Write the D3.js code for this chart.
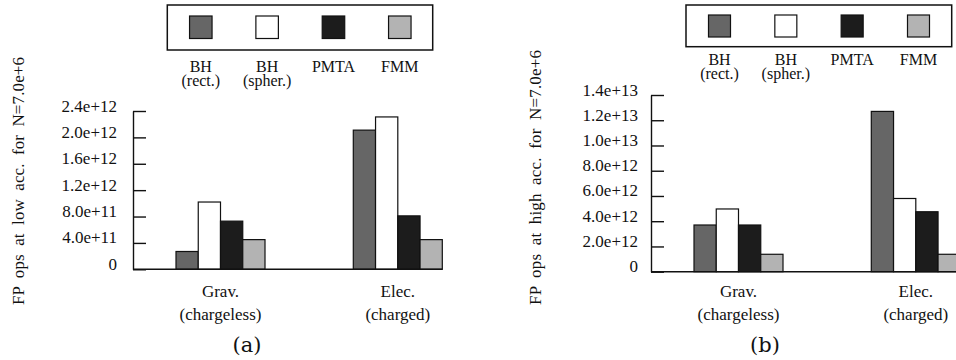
<!DOCTYPE html>
<html>
<head>
<meta charset="utf-8">
<script src="https://cdn.jsdelivr.net/npm/d3@7"></script>
<style>
  html, body { margin: 0; padding: 0; background: #fff; }
  svg { display: block; }
  text { font-family: "Liberation Serif", "Times New Roman", serif; fill: #111; }
</style>
</head>
<body>
<svg id="chart" width="956" height="360"></svg>
<script>
// ---- data ----
const categories = ["Grav.", "Elec."];
const categorySub = ["(chargeless)", "(charged)"];
const methods = ["BH (rect.)", "BH (spher.)", "PMTA", "FMM"];
const legendLine1 = ["BH", "BH", "PMTA", "FMM"];
const legendLine2 = ["(rect.)", "(spher.)", "", ""];

const lowAccBHRect  = [2.7e11, 2.11e12];
const lowAccBHSpher = [1.02e12, 2.31e12];
const lowAccPMTA    = [7.3e11, 8.1e11];
const lowAccFMM     = [4.5e11, 4.5e11];

const highAccBHRect  = [3.7e12, 1.27e13];
const highAccBHSpher = [4.97e12, 5.8e12];
const highAccPMTA    = [3.7e12, 4.75e12];
const highAccFMM     = [1.38e12, 1.38e12];

const lowAccTicks = [0, 4e11, 8e11, 1.2e12, 1.6e12, 2.0e12, 2.4e12];
const lowAccTickLabels = ["0", "4.0e+11", "8.0e+11", "1.2e+12", "1.6e+12", "2.0e+12", "2.4e+12"];
const highAccTicks = [0, 2e12, 4e12, 6e12, 8e12, 1.0e13, 1.2e13, 1.4e13];
const highAccTickLabels = ["0", "2.0e+12", "4.0e+12", "6.0e+12", "8.0e+12", "1.0e+13", "1.2e+13", "1.4e+13"];

const yTitleLow = "FP ops at low acc. for N=7.0e+6";
const yTitleHigh = "FP ops at high acc. for N=7.0e+6";
const panelTags = ["(a)", "(b)"];

// ---- styles ----
const methodColors = ["#666666", "#ffffff", "#1c1c1c", "#b3b3b3"];

const svg = d3.select("#chart");

const panels = [
  { series: [lowAccBHRect, lowAccBHSpher, lowAccPMTA, lowAccFMM], ticks: lowAccTicks, tickLabels: lowAccTickLabels,
    title: yTitleLow, tag: panelTags[0],
    axisX: 133, y0: 269.3, yTop: 111, xEnd: 442.3, labelPad: 16, titleX: 24, titleLen: 248,
    box: { x: 167.3, y: 5, w: 265.4, h: 45 }, sqY: 16, sq: 22.5, l1: 72, l2: 86 },
  { series: [highAccBHRect, highAccBHSpher, highAccPMTA, highAccFMM], ticks: highAccTicks, tickLabels: highAccTickLabels,
    title: yTitleHigh, tag: panelTags[1],
    axisX: 651, y0: 271.7, yTop: 95, xEnd: 960.3, labelPad: 13, titleX: 541, titleLen: 255,
    box: { x: 686, y: 5, w: 265.7, h: 41.7 }, sqY: 15, sq: 22, l1: 65, l2: 79 }
];

panels.forEach(p => {
  const g = svg.append("g");
  const domainMax = p.ticks[p.ticks.length - 1];
  const y = d3.scaleLinear().domain([0, domainMax]).range([p.y0, p.yTop]);
  const x0 = d3.scaleBand().domain(categories)
    .range([p.axisX + 43, p.xEnd]).paddingInner(0.498).paddingOuter(0);
  const x1 = d3.scaleBand().domain(methods).range([0, x0.bandwidth()]).padding(0);

  // bars
  categories.forEach((c, ci) => {
    const cg = g.append("g").attr("transform", `translate(${x0(c)},0)`);
    methods.forEach((m, mi) => {
      const v = p.series[mi][ci];
      cg.append("rect")
        .attr("x", x1(m))
        .attr("y", y(v))
        .attr("width", x1.bandwidth())
        .attr("height", y(0) - y(v))
        .attr("fill", methodColors[mi])
        .attr("stroke", "#111")
        .attr("stroke-width", 1.2);
    });
    // category labels (two lines)
    const cx = x0(c) + x0.bandwidth() / 2;
    const ct = g.append("text")
      .attr("text-anchor", "middle")
      .style("font-size", "17px");
    ct.append("tspan").attr("x", cx).attr("y", 296.7).text(c);
    ct.append("tspan").attr("x", cx).attr("y", 320).text(categorySub[ci]);
  });

  // y axis
  const axis = d3.axisLeft(y)
    .tickValues(p.ticks)
    .tickFormat((d, i) => p.tickLabels[i])
    .tickSize(-13)
    .tickSizeOuter(0)
    .tickPadding(p.labelPad);
  const ag = g.append("g").attr("transform", `translate(${p.axisX},0)`).call(axis);
  ag.selectAll("path.domain").attr("stroke", "#111").attr("stroke-width", 1.4);
  ag.selectAll(".tick line").attr("stroke", "#111").attr("stroke-width", 1.4);
  ag.selectAll(".tick text")
    .attr("dy", "0em")
    .style("font-family", "'Liberation Serif', serif")
    .style("font-size", "17px")
    .attr("fill", "#111");

  // baseline
  g.append("line")
    .attr("x1", p.axisX).attr("x2", p.xEnd)
    .attr("y1", y(0)).attr("y2", y(0))
    .attr("stroke", "#111").attr("stroke-width", 1.4);

  // y title
  g.append("text")
    .attr("transform", `translate(${p.titleX},305) rotate(-90)`)
    .attr("text-anchor", "start")
    .attr("textLength", p.titleLen)
    .attr("lengthAdjust", "spacing")
    .style("font-size", "17px")
    .style("word-spacing", "4px")
    .text(p.title);

  // legend
  g.append("rect")
    .attr("x", p.box.x).attr("y", p.box.y)
    .attr("width", p.box.w).attr("height", p.box.h)
    .attr("fill", "none").attr("stroke", "#111").attr("stroke-width", 1.5);
  const lx = d3.scalePoint().domain(methods)
    .range([p.box.x + 33.5, p.box.x + 232.5]);
  methods.forEach((m, mi) => {
    g.append("rect")
      .attr("x", lx(m) - p.sq / 2).attr("y", p.sqY)
      .attr("width", p.sq).attr("height", p.sq)
      .attr("fill", methodColors[mi])
      .attr("stroke", "#111").attr("stroke-width", 1.2);
    const lt = g.append("text")
      .attr("text-anchor", "middle")
      .style("font-size", "16px");
    lt.append("tspan").attr("x", lx(m)).attr("y", p.l1).text(legendLine1[mi]);
    if (legendLine2[mi]) {
      lt.append("tspan").attr("x", lx(m)).attr("y", p.l2).text(legendLine2[mi]);
    }
  });

  // panel tag
  g.append("text")
    .attr("x", p.axisX + 114)
    .attr("y", 352)
    .attr("text-anchor", "middle")
    .style("font-family", "'DejaVu Serif', serif")
    .style("font-size", "21px")
    .text(p.tag);
});
</script>
</body>
</html>
